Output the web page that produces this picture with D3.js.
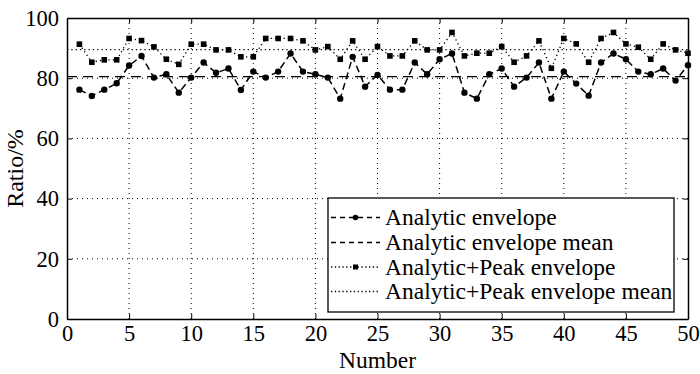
<!DOCTYPE html>
<html>
<head>
<meta charset="utf-8">
<script src="https://cdn.jsdelivr.net/npm/d3@7"></script>
<style>
  body { margin: 0; background: #fff; }
  text { font-family: "Liberation Serif", "Times New Roman", serif; fill: #000; }
</style>
</head>
<body>
<svg id="chart" width="700" height="374"></svg>
<script>
// data
const numbers = d3.range(1, 51);
const analytic = [76.2, 74.1, 76.2, 78.3, 84.2, 87.4, 80.2, 81.3, 75.2, 80.2,
  85.2, 81.8, 83.2, 76.1, 82.2, 80.2, 82.2, 88.2, 82.2, 81.3,
  80.2, 73.2, 87.1, 77.2, 81.1, 76.2, 76.2, 85.2, 81.3, 86.3,
  88.2, 75.2, 73.2, 81.3, 83.2, 77.2, 80.2, 85.2, 73.2, 82.2,
  78.2, 74.2, 85.2, 88.2, 86.3, 82.2, 81.3, 83.2, 79.2, 84.3];
const analyticPeak = [91.3, 85.3, 86.1, 86.1, 93.2, 92.5, 90.4, 86.3, 84.6, 91.3,
  91.3, 89.4, 89.4, 87.1, 87.1, 93.2, 93.2, 93.2, 92.4, 89.4,
  90.5, 86.3, 92.4, 86.3, 90.5, 87.4, 87.4, 92.4, 89.4, 89.4,
  95.2, 87.4, 88.3, 88.3, 90.5, 85.3, 87.4, 92.4, 83.3, 93.2,
  91.4, 85.3, 93.2, 95.2, 91.4, 90.3, 86.3, 91.4, 89.4, 88.3];
const analyticMean = 80.5;
const analyticPeakMean = 89.5;
const xTicks = [0, 5, 10, 15, 20, 25, 30, 35, 40, 45, 50];
const yTicks = [0, 20, 40, 60, 80, 100];
const legendLabels = ['Analytic envelope', 'Analytic envelope mean',
  'Analytic+Peak envelope', 'Analytic+Peak envelope mean'];

const svg = d3.select('#chart');
const margin = {top: 18, right: 12, bottom: 55, left: 67},
    chartWidth = 700 - margin.left - margin.right,
    chartHeight = 374 - margin.top - margin.bottom;
const tickFont = '22.5px';
const labelFont = '23.5px';

const xScale = d3.scaleLinear().domain([0, 50]).range([0, chartWidth]);
const yScale = d3.scaleLinear().domain([0, 100]).range([chartHeight, 0]);

const g = svg.append('g')
  .attr('transform', `translate(${margin.left}, ${margin.top})`);

// grid
g.append('g').selectAll('line')
  .data(xTicks.slice(1, -1))
  .join('line')
  .attr('x1', d => xScale(d)).attr('x2', d => xScale(d))
  .attr('y1', 0).attr('y2', chartHeight)
  .attr('stroke', '#000').attr('stroke-width', 1)
  .attr('stroke-dasharray', '1,4');
g.append('g').selectAll('line')
  .data(yTicks.slice(1, -1))
  .join('line')
  .attr('y1', d => yScale(d)).attr('y2', d => yScale(d))
  .attr('x1', 0).attr('x2', chartWidth)
  .attr('stroke', '#000').attr('stroke-width', 1)
  .attr('stroke-dasharray', '1,4');

// axes, ticks inside
const xAxis = g.append('g')
  .attr('transform', `translate(0, ${chartHeight})`)
  .call(d3.axisBottom(xScale).tickValues(xTicks).tickSizeInner(-5).tickSizeOuter(0).tickPadding(7));
const xAxisTop = g.append('g')
  .call(d3.axisTop(xScale).tickValues(xTicks).tickSizeInner(-5).tickSizeOuter(0).tickFormat(''));
const yAxis = g.append('g')
  .call(d3.axisLeft(yScale).tickValues(yTicks).tickSizeInner(-5).tickSizeOuter(0).tickPadding(8));
const yAxisRight = g.append('g')
  .attr('transform', `translate(${chartWidth}, 0)`)
  .call(d3.axisRight(yScale).tickValues(yTicks).tickSizeInner(-5).tickSizeOuter(0).tickFormat(''));

[xAxis, xAxisTop, yAxis, yAxisRight].forEach(a => {
  a.select('.domain').attr('stroke', '#000').attr('stroke-width', 1.5);
  a.selectAll('.tick line').attr('stroke', '#000');
  a.selectAll('text').style('font-family', '"Liberation Serif", serif')
    .style('font-size', tickFont).attr('fill', '#000');
});
xAxis.selectAll('text').attr('dy', '0.68em');

// mean lines
g.append('line')
  .attr('x1', 0).attr('x2', chartWidth)
  .attr('y1', yScale(analyticMean)).attr('y2', yScale(analyticMean))
  .attr('stroke', '#000').attr('stroke-width', 1.3)
  .attr('stroke-dasharray', '10,6');
g.append('line')
  .attr('x1', 0).attr('x2', chartWidth)
  .attr('y1', yScale(analyticPeakMean)).attr('y2', yScale(analyticPeakMean))
  .attr('stroke', '#000').attr('stroke-width', 1.3)
  .attr('stroke-dasharray', '1.3,3');

const line = d3.line()
  .x((d, i) => xScale(numbers[i]))
  .y(d => yScale(d));

g.append('path')
  .datum(analyticPeak)
  .attr('d', line)
  .attr('fill', 'none').attr('stroke', '#000').attr('stroke-width', 1.3)
  .attr('stroke-dasharray', '1.3,3');
g.append('g').selectAll('rect')
  .data(analyticPeak)
  .join('rect')
  .attr('x', (d, i) => xScale(numbers[i]) - 2.8)
  .attr('y', d => yScale(d) - 2.8)
  .attr('width', 5.6).attr('height', 5.6)
  .attr('fill', '#000');

g.append('path')
  .datum(analytic)
  .attr('d', line)
  .attr('fill', 'none').attr('stroke', '#000').attr('stroke-width', 1.5)
  .attr('stroke-dasharray', '7,4');
g.append('g').selectAll('circle')
  .data(analytic)
  .join('circle')
  .attr('cx', (d, i) => xScale(numbers[i]))
  .attr('cy', d => yScale(d))
  .attr('r', 3.2)
  .attr('fill', '#000');

// legend
const legend = svg.append('g').attr('transform', 'translate(328, 198)');
legend.append('rect')
  .attr('width', 346).attr('height', 114)
  .attr('fill', '#fff').attr('stroke', '#000').attr('stroke-width', 1.3);
const rowY = [19.5, 44.5, 69, 93.5];
const dashes = ['5,4', '5,4', '1.3,2.5', '1.3,2.5'];
legendLabels.forEach((label, i) => {
  legend.append('line')
    .attr('x1', 3).attr('x2', 52)
    .attr('y1', rowY[i]).attr('y2', rowY[i])
    .attr('stroke', '#000').attr('stroke-width', 1.3)
    .attr('stroke-dasharray', dashes[i]);
  if (i === 0) {
    legend.append('circle').attr('cx', 27.5).attr('cy', rowY[i]).attr('r', 2.8).attr('fill', '#000');
  }
  if (i === 2) {
    legend.append('rect').attr('x', 25).attr('y', rowY[i] - 2.5)
      .attr('width', 5).attr('height', 5).attr('fill', '#000');
  }
  legend.append('text')
    .attr('x', 57).attr('y', rowY[i])
    .attr('dy', '0.33em')
    .style('font-size', labelFont)
    .text(label);
});

// axis labels
svg.append('text')
  .attr('x', margin.left + chartWidth / 2)
  .attr('y', 368)
  .attr('text-anchor', 'middle')
  .style('font-size', labelFont)
  .text('Number');

svg.append('text')
  .attr('transform', 'rotate(-90)')
  .attr('x', -(margin.top + chartHeight / 2))
  .attr('y', 23)
  .attr('text-anchor', 'middle')
  .style('font-size', '24px')
  .text('Ratio/%');
</script>
</body>
</html>
